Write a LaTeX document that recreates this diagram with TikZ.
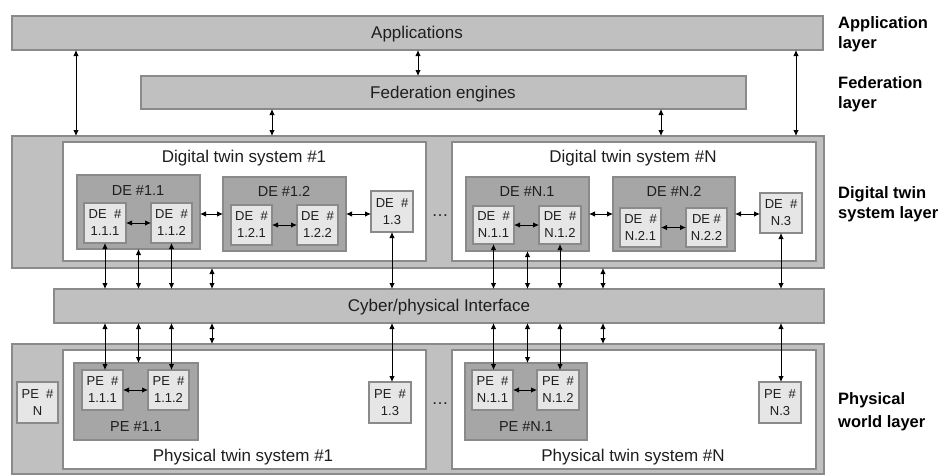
\documentclass[tikz,border=0pt]{standalone}
\usepackage{fontspec}
\setmainfont{Liberation Sans}
\usetikzlibrary{arrows.meta}

\definecolor{barfill}{HTML}{C0C0C0}
\definecolor{barline}{HTML}{8A8A8A}
\definecolor{grpfill}{HTML}{A6A6A6}
\definecolor{elemfill}{HTML}{E6E6E6}
\definecolor{ink}{HTML}{1E1E1E}

\tikzset{
  frame/.style={draw=barline, line width=1.6pt, inner sep=0pt, outer sep=0pt, anchor=north west},
  bar/.style={frame, fill=barfill},
  sys/.style={frame, fill=white},
  grp/.style={frame, fill=grpfill},
  elem/.style={frame, fill=elemfill, text=ink, align=center, font=\fontsize{13}{17}\selectfont},
  bigtext/.style={font=\fontsize{17}{20}\selectfont, text=ink, anchor=mid, inner sep=0pt, yshift=-3.5pt},
  grptext/.style={font=\fontsize{14.5}{17}\selectfont, text=ink, anchor=mid, inner sep=0pt, yshift=-2.5pt},
  layertext/.style={font=\bfseries\fontsize{16.5}{20.5}\selectfont, text=black, align=left, anchor=west, inner sep=0pt, yshift=-2pt},
  link/.style={{Latex[length=6pt,width=5.5pt]}-{Latex[length=6pt,width=5.5pt]}, line width=0.9pt, black},
}

% \rectnode{style}{name}{x1}{y1}{x2}{y2}{text}: box from top-left (x1,y1) to bottom-right (x2,y2)
\newcommand{\rectnode}[7]{%
  \node[#1, minimum width={#5-#3}, minimum height={#6-#4}] (#2) at (#3,#4) {#7};}

\begin{document}
\begin{tikzpicture}[x=1pt, y=-1pt]
\useasboundingbox (0,0) rectangle (941,475);

% ---------- application and federation layers ----------
\rectnode{bar}{apps}{12}{16}{823}{50}{}
\node[bigtext] (tapps) at (417,32) {Applications};
\rectnode{bar}{fed}{141}{76}{746}{109}{}
\node[bigtext] (tfed) at (443,92) {Federation engines};

% ---------- digital twin system layer ----------
\rectnode{bar}{dtl}{12}{136}{824}{268}{}
\rectnode{sys}{dts1}{63}{142}{426}{261}{}
\node[bigtext] (tdts1) at (244,156) {Digital twin system \#1};
\rectnode{sys}{dtsn}{452}{142}{816}{261}{}
\node[bigtext] (tdtsn) at (633,156) {Digital twin system \#N};

\rectnode{grp}{de11}{77}{175}{200}{249}{}
\node[grptext] (tde11) at (138,190) {DE \#1.1};
\rectnode{elem}{de111}{84}{203}{126}{243}{DE\ \ \#\\1.1.1}
\rectnode{elem}{de112}{151}{203}{192}{243}{DE\ \ \#\\1.1.2}
\rectnode{grp}{de12}{223}{177}{346}{251}{}
\node[grptext] (tde12) at (284,191) {DE \#1.2};
\rectnode{elem}{de121}{231}{205}{272}{245}{DE\ \ \#\\1.2.1}
\rectnode{elem}{de122}{297}{205}{338}{245}{DE\ \ \#\\1.2.2}
\rectnode{elem}{de13}{371}{191}{413}{232}{DE\ \ \#\\1.3}
\node[bigtext] (dotsde) at (440,210) {…};

\rectnode{grp}{den1}{466}{177}{589}{251}{}
\node[grptext] (tden1) at (527,191) {DE \#N.1};
\rectnode{elem}{den11}{473}{206}{514}{244}{DE\ \ \#\\N.1.1}
\rectnode{elem}{den12}{539}{206}{581}{244}{DE\ \ \#\\N.1.2}
\rectnode{grp}{den2}{613}{177}{735}{251}{}
\node[grptext] (tden2) at (674,191) {DE \#N.2};
\rectnode{elem}{den21}{620}{208}{661}{247}{DE\ \ \#\\N.2.1}
\rectnode{elem}{den22}{686}{208}{727}{247}{DE \#\\N.2.2}
\rectnode{elem}{den3}{760}{193}{802}{233}{DE\ \ \#\\N.3}

% ---------- cyber/physical interface ----------
\rectnode{bar}{cpi}{54}{289}{824}{323}{}
\node[bigtext] (tcpi) at (439,305) {Cyber/physical Interface};

% ---------- physical world layer ----------
\rectnode{bar}{pwl}{12}{344}{824}{474}{}
\rectnode{sys}{pts1}{63}{350}{426}{469}{}
\node[bigtext] (tpts1) at (243,455) {Physical twin system \#1};
\rectnode{sys}{ptsn}{452}{350}{816}{469}{}
\node[bigtext] (tptsn) at (633,455) {Physical twin system \#N};

\rectnode{elem}{pen}{17}{382}{58}{423}{PE\ \ \#\\N}
\rectnode{grp}{pe11}{74}{363}{198}{440}{}
\node[grptext] (tpe11) at (136,426) {PE \#1.1};
\rectnode{elem}{pe111}{82}{370}{123}{410}{PE\ \ \#\\1.1.1}
\rectnode{elem}{pe112}{148}{370}{189}{410}{PE\ \ \#\\1.1.2}
\rectnode{elem}{pe13}{369}{382}{411}{423}{PE\ \ \#\\1.3}
\node[bigtext] (dotspe) at (440,398) {…};

\rectnode{grp}{pen1}{465}{363}{587}{440}{}
\node[grptext] (tpen1) at (526,426) {PE \#N.1};
\rectnode{elem}{pen11}{472}{370}{513}{410}{PE\ \ \#\\N.1.1}
\rectnode{elem}{pen12}{537}{370}{579}{410}{PE\ \ \#\\N.1.2}
\rectnode{elem}{pen3}{759}{382}{801}{423}{PE\ \ \#\\N.3}

% ---------- layer names ----------
\node[layertext] (lapp) at (838,32) {Application\\layer};
\node[layertext] (lfed) at (838,92) {Federation\\layer};
\node[layertext] (ldts) at (838,202) {Digital twin\\system layer};
\node[layertext, font=\bfseries\fontsize{16.5}{23}\selectfont] (lphy) at (838,410) {Physical\\world layer};

% ---------- connector columns ----------
\coordinate (ca) at (76,0);
\coordinate (cb) at (418,0);
\coordinate (cc) at (272,0);
\coordinate (cd) at (661,0);
\coordinate (ce) at (796,0);
\coordinate (cf) at (212,0);
\coordinate (cg) at (603,0);

% applications / federation / digital twin layer
\draw[link] (ca |- apps.south) -- (ca |- dtl.north);
\draw[link] (ce |- apps.south) -- (ce |- dtl.north);
\draw[link] (cb |- apps.south) -- (cb |- fed.north);
\draw[link] (cc |- fed.south) -- (cc |- dtl.north);
\draw[link] (cd |- fed.south) -- (cd |- dtl.north);

% inside the digital twin systems
\draw[link] (de111.east) -- (de112.west);
\draw[link] (de12.west -| de11.east) -- (de12.west);
\draw[link] (de121.east) -- (de122.west);
\draw[link] (de12.east) -- (de12.east -| de13.west);
\draw[link] (den11.east) -- (den12.west);
\draw[link] (den1.east) -- (den1.east -| den2.west);
\draw[link] (den21.east) -- (den22.west);
\draw[link] (den2.east) -- (den2.east -| den3.west);

% digital twin layer to cyber/physical interface
\draw[link] (de111.south) -- (de111 |- cpi.north);
\draw[link] (de11.south) -- (de11 |- cpi.north);
\draw[link] (de112.south) -- (de112 |- cpi.north);
\draw[link] (cf |- dtl.south) -- (cf |- cpi.north);
\draw[link] (de13.south) -- (de13 |- cpi.north);
\draw[link] (den11.south) -- (den11 |- cpi.north);
\draw[link] (den1.south) -- (den1 |- cpi.north);
\draw[link] (den12.south) -- (den12 |- cpi.north);
\draw[link] (cg |- dtl.south) -- (cg |- cpi.north);
\draw[link] (den3.south) -- (den3 |- cpi.north);

% cyber/physical interface to physical world layer
\draw[link] (de111 |- cpi.south) -- (de111 |- pe111.north);
\draw[link] (de11 |- cpi.south) -- (de11 |- pe11.north);
\draw[link] (de112 |- cpi.south) -- (de112 |- pe112.north);
\draw[link] (cf |- cpi.south) -- (cf |- pwl.north);
\draw[link] (de13 |- cpi.south) -- (de13 |- pe13.north);
\draw[link] (den11 |- cpi.south) -- (den11 |- pen11.north);
\draw[link] (den1 |- cpi.south) -- (den1 |- pen1.north);
\draw[link] (den12 |- cpi.south) -- (den12 |- pen12.north);
\draw[link] (cg |- cpi.south) -- (cg |- pwl.north);
\draw[link] (den3 |- cpi.south) -- (den3 |- pen3.north);

% inside the physical twin systems
\draw[link] (pe111.east) -- (pe112.west);
\draw[link] (pen11.east) -- (pen12.west);
\end{tikzpicture}
\end{document}
